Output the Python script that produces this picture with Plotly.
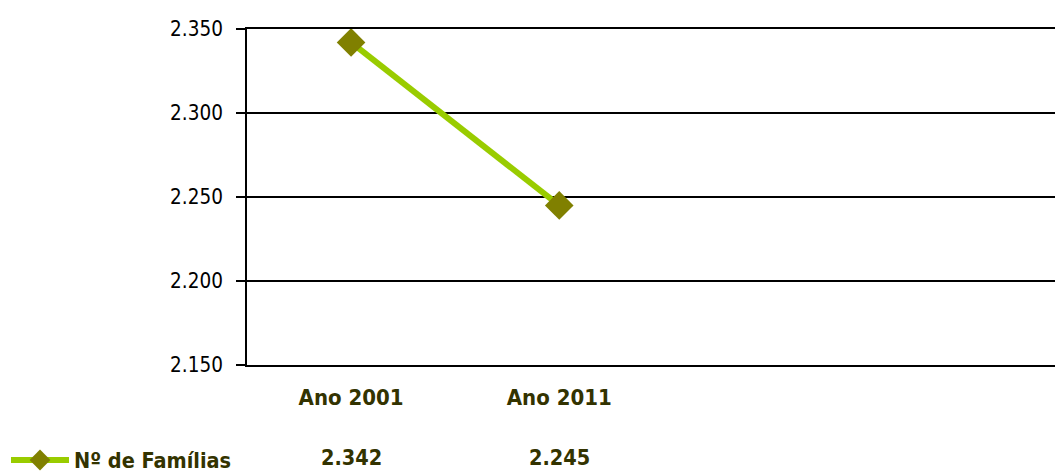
import plotly.graph_objects as go

# Data
categories = ['Ano 2001', 'Ano 2011']
familias = [2342, 2245]
series_name = 'Nº de Famílias'
y_ticks = [2150, 2200, 2250, 2300, 2350]
y_tick_labels = ['2.150', '2.200', '2.250', '2.300', '2.350']

line_color = '#99CC00'
marker_color = '#808000'
text_color = '#333300'
font_family = 'DejaVu Sans Condensed, DejaVu Sans'


def fmt(v):
    return f'{v:,}'.replace(',', '.')


fig = go.Figure()

fig.add_trace(go.Scatter(
    x=categories,
    y=familias,
    mode='lines+markers',
    name=f'<b>{series_name}</b>',
    line=dict(color=line_color, width=6),
    marker=dict(symbol='diamond', size=22, color=marker_color),
))

# data table row below the axis
for cat, val in zip(categories, familias):
    fig.add_annotation(
        x=cat, y=-0.276, xref='x', yref='paper',
        text=f'<b>{fmt(val)}</b>', showarrow=False,
        yanchor='middle', xanchor='center',
        font=dict(family=font_family, size=21.5, color=text_color),
    )

# page body has an 8px margin, so the figure is a bit smaller than the window
fig.update_layout(
    width=1055,
    height=463,
    margin=dict(l=239, r=0, t=21, b=106, autoexpand=False),
    plot_bgcolor='white',
    paper_bgcolor='white',
    showlegend=True,
    legend=dict(
        x=0, y=1 - 452 / 463, xref='container', yref='container',
        xanchor='left', yanchor='middle',
        font=dict(family=font_family, size=21.5, color=text_color),
        bgcolor='rgba(0,0,0,0)', borderwidth=0,
        itemwidth=58, indentation=-2,
    ),
    xaxis=dict(
        type='category',
        range=[-0.5, 3.42],
        showgrid=False,
        showline=True, mirror=True, linecolor='black', linewidth=2,
        ticks='outside', ticklen=12, tickcolor='rgba(0,0,0,0)',
        tickfont=dict(family=font_family, size=22, color=text_color),
        tickprefix='<b>', ticksuffix='</b>',
        zeroline=False,
    ),
    yaxis=dict(
        range=[2150, 2350],
        tickvals=y_ticks,
        ticktext=y_tick_labels,
        tickfont=dict(family=font_family, size=20.5, color='black'),
        ticklabelstandoff=9,
        showgrid=True, gridcolor='black', gridwidth=2,
        showline=True, linecolor='black', linewidth=2,
        ticks='outside', ticklen=9, tickcolor='black', tickwidth=2,
        zeroline=False,
    ),
)

fig.write_html('out.html')
